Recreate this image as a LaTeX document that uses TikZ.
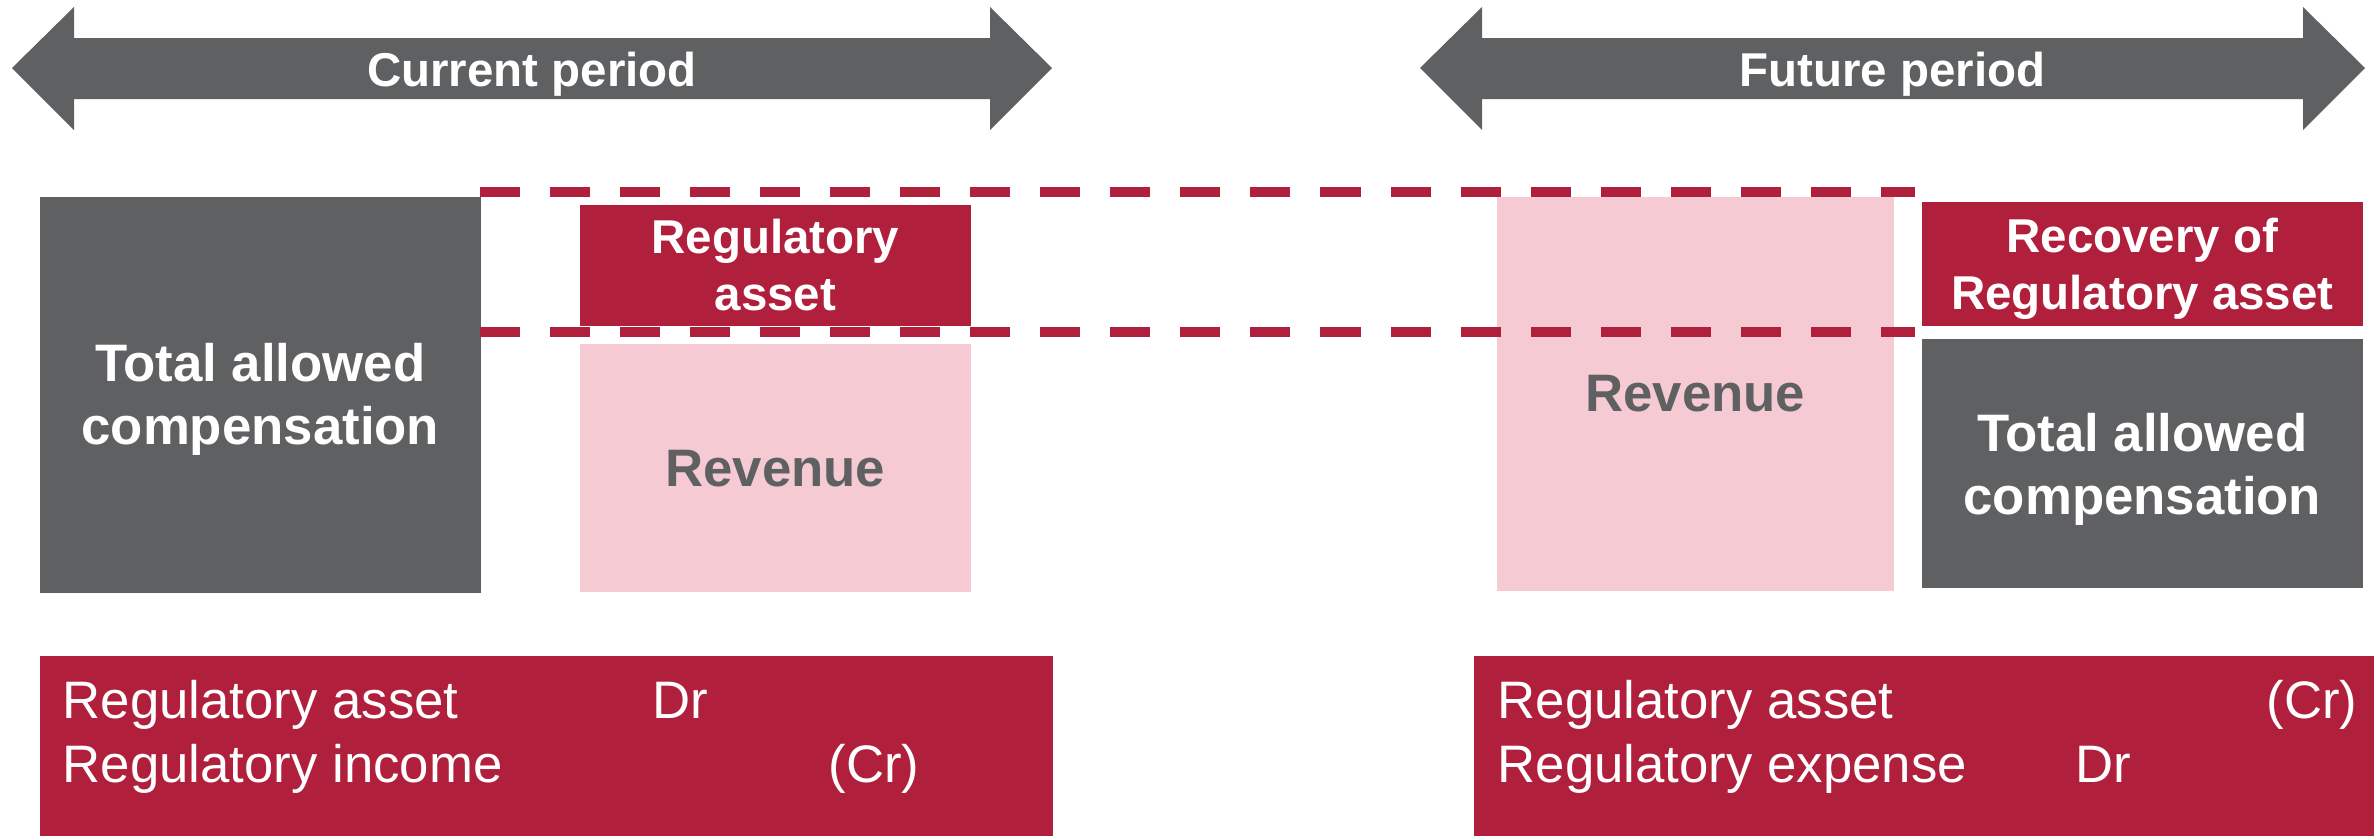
\documentclass[tikz,border=0pt]{standalone}
\usepackage{fontspec}
\setmainfont{Liberation Sans}
\usetikzlibrary{positioning}
\definecolor{slate}{HTML}{5F6062}
\definecolor{crimson}{HTML}{B01F3C}
\definecolor{blush}{HTML}{F5CAD3}
\newcommand{\bigB}{\fontsize{15}{18}\selectfont\bfseries}
\newcommand{\midB}{\fontsize{13.5}{16.2}\selectfont\bfseries}
\newcommand{\ledger}{\fontsize{15}{18}\selectfont}
% two-headed period arrow: #1 left tip, #2 right tip, #3 label, #4 node name
\newcommand{\periodarrow}[4]{%
  \fill[slate] (#1,68) -- ({#1+62},7) -- ({#1+62},38) -- ({#2-62},38)
    -- ({#2-62},7) -- (#2,68) -- ({#2-62},130) -- ({#2-62},99)
    -- ({#1+62},99) -- ({#1+62},130) -- cycle;
  \node[font=\midB, text=white, anchor=base] (#4) at ({(#1+#2)/2},86) {#3};}

\tikzset{
  box/.style={inner sep=0pt, align=center, anchor=north west},
  slatebox/.style={box, fill=slate, text=white, font=\bigB},
  redbox/.style={box, fill=crimson, text=white, font=\midB},
  pinkbox/.style={box, fill=blush, text=slate, font=\bigB},
  boxtext/.style={inner sep=0pt, align=center, text=white},
  ledgerbox/.style={box, fill=crimson, minimum height=1.81cm},
  entry/.style={inner sep=0pt, text=white, font=\ledger, anchor=base west},
  dashline/.style={crimson, line width=0.1cm, dash pattern=on 0.4cm off 0.3cm}
}

\begin{document}
\begin{tikzpicture}[x=0.01cm, y=-0.01cm]
  \useasboundingbox (0,0) rectangle (2374,836);

  \periodarrow{12}{1052}{Current period}{curLbl}
  \periodarrow{1420}{2365}{Future period}{futLbl}

  % current period
  \node[slatebox, minimum width=4.41cm, minimum height=3.96cm] (totalL) at (39,196) {};
  \node[boxtext, font=\bigB] (totalLtxt) at ([yshift=-0.045cm]totalL.center)
    {Total allowed\\compensation};
  \node[redbox, minimum width=3.91cm, minimum height=1.21cm] (assetL) at (579,204)
    {Regulatory\\asset};
  \node[pinkbox, minimum width=3.91cm, minimum height=2.48cm, anchor=north,
        below=0.17cm of assetL] (revL) {Revenue};

  % future period
  \node[pinkbox, minimum width=3.97cm, minimum height=3.94cm] (revR) at (1496,196)
    {Revenue};
  \node[redbox, minimum width=4.41cm, minimum height=1.24cm] (recovR) at (1921,201) {};
  \node[boxtext, font=\midB] (recovRtxt) at ([yshift=-0.05cm]recovR.center)
    {Recovery of\\Regulatory asset};
  \node[slatebox, minimum width=4.41cm, minimum height=2.49cm, anchor=north,
        below=0.12cm of recovR] (totalR) {};
  \node[boxtext, font=\bigB] (totalRtxt) at ([yshift=-0.055cm]totalR.center)
    {Total allowed\\compensation};

  % the deferred amount carried across
  \coordinate (hiA) at (480,192);
  \coordinate (hiB) at (1915,192);
  \coordinate (loA) at (480,332);
  \coordinate (loB) at (1915,332);
  \draw[dashline] (hiA) -- (hiB);
  \draw[dashline] (loA) -- (loB);

  % journal entries
  \node[ledgerbox, minimum width=10.13cm] (ledgerL) at (39,655) {};
  \node[entry] (raL) at ([shift={(23,63)}]ledgerL.north west) {Regulatory asset};
  \node[entry] (riL) at ([shift={(23,127)}]ledgerL.north west) {Regulatory income};
  \node[entry] (drL) at ([shift={(613,63)}]ledgerL.north west) {Dr};
  \node[entry] (crL) at ([shift={(789,127)}]ledgerL.north west) {(Cr)};

  \node[ledgerbox, minimum width=9.01cm] (ledgerR) at (1473,655) {};
  \node[entry] (raR) at ([shift={(24,63)}]ledgerR.north west) {Regulatory asset};
  \node[entry] (reR) at ([shift={(24,127)}]ledgerR.north west) {Regulatory expense};
  \node[entry] (crR) at ([shift={(793,63)}]ledgerR.north west) {(Cr)};
  \node[entry] (drR) at ([shift={(602,127)}]ledgerR.north west) {Dr};
\end{tikzpicture}
\end{document}
